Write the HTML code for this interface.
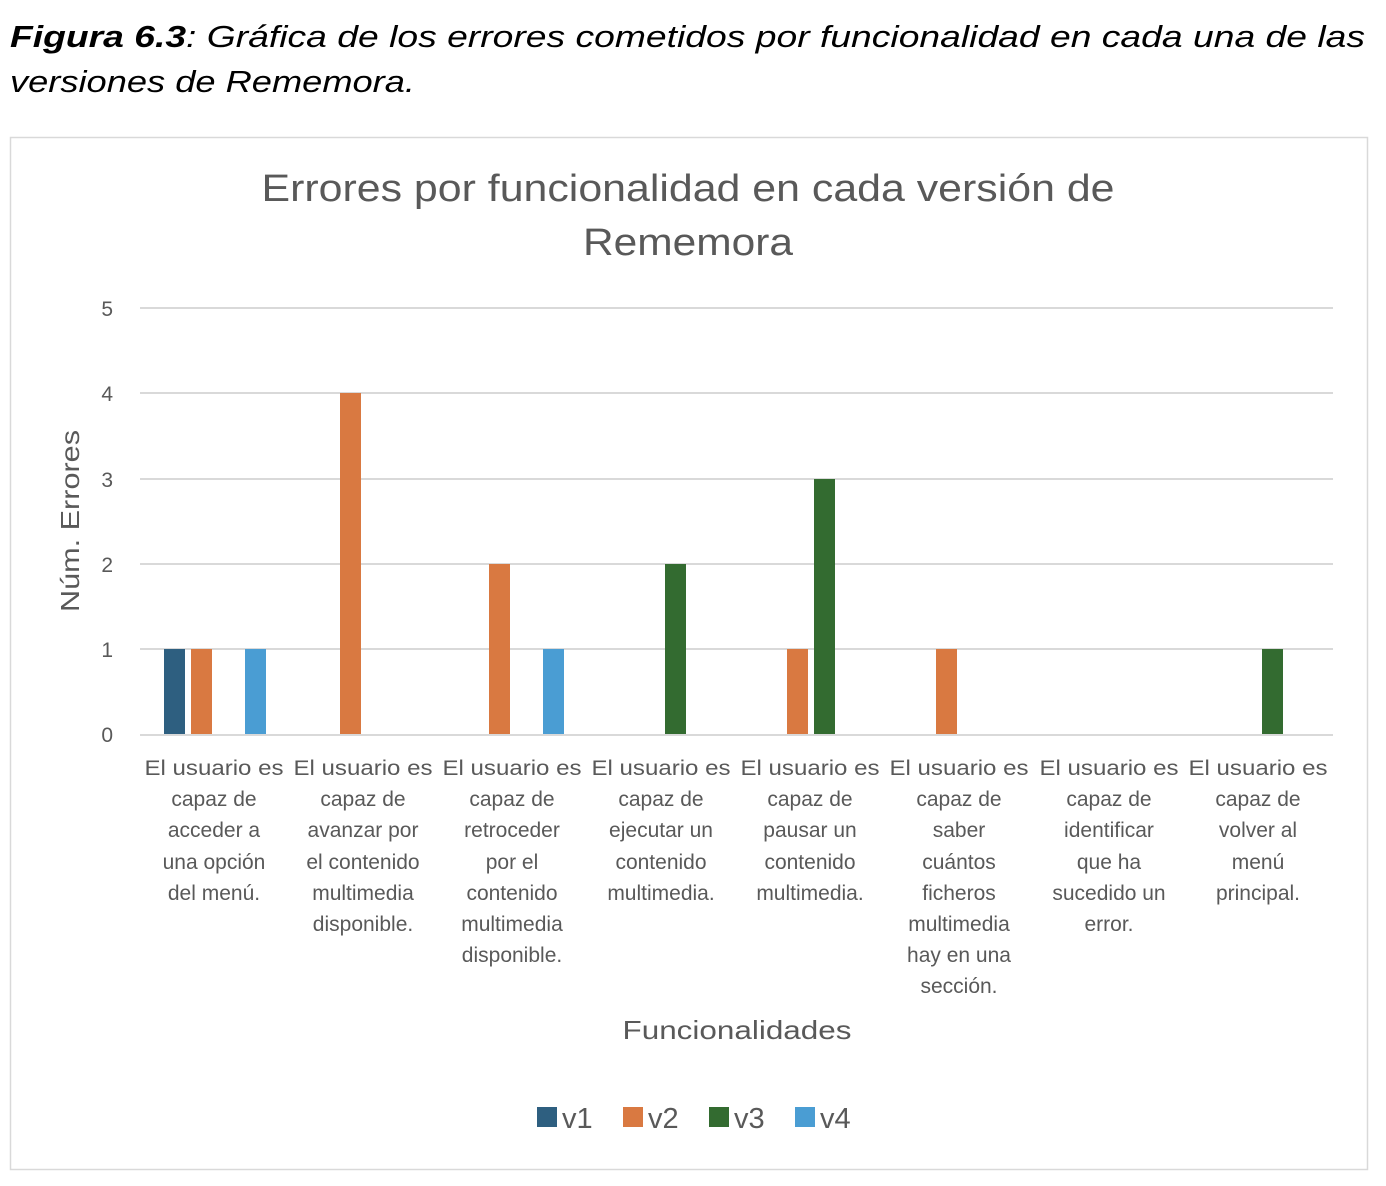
<!DOCTYPE html>
<html><head><meta charset="utf-8"><style>body{margin:0;background:#fff}svg{display:block}</style></head><body>
<svg width="1386" height="1186" xmlns="http://www.w3.org/2000/svg" font-family="Liberation Sans, sans-serif">
<text x="10" y="47" font-size="31" font-style="italic" fill="#000" textLength="1355" lengthAdjust="spacingAndGlyphs"><tspan font-weight="bold">Figura 6.3</tspan>: Gráfica de los errores cometidos por funcionalidad en cada una de las</text>
<text x="10" y="92" font-size="31" font-style="italic" fill="#000" textLength="405" lengthAdjust="spacingAndGlyphs">versiones de Rememora.</text>
<rect x="10.5" y="137.5" width="1357" height="1032" fill="#fff" stroke="#d9d9d9" stroke-width="1.5"/>
<g fill="#595959" font-size="38" text-anchor="middle">
<text x="688" y="201" textLength="853" lengthAdjust="spacingAndGlyphs">Errores por funcionalidad en cada versión de</text>
<text x="688" y="255" textLength="210" lengthAdjust="spacingAndGlyphs">Rememora</text>
</g>
<g stroke="#d9d9d9" stroke-width="2">
<line x1="140" x2="1333" y1="308" y2="308"/><line x1="140" x2="1333" y1="393" y2="393"/><line x1="140" x2="1333" y1="479" y2="479"/><line x1="140" x2="1333" y1="564" y2="564"/><line x1="140" x2="1333" y1="649" y2="649"/><line x1="140" x2="1333" y1="735" y2="735"/>
</g>
<g fill="#595959" font-size="21" text-anchor="end">
<text x="113" y="316">5</text><text x="113" y="401">4</text><text x="113" y="487">3</text><text x="113" y="572">2</text><text x="113" y="657">1</text><text x="113" y="742">0</text>
</g>
<text transform="translate(79,521) rotate(-90)" fill="#595959" font-size="26" text-anchor="middle" textLength="182" lengthAdjust="spacingAndGlyphs">Núm. Errores</text>
<rect x="164" y="649" width="21" height="85" fill="#2e5f80"/>
<rect x="191" y="649" width="21" height="85" fill="#d97941"/>
<rect x="245" y="649" width="21" height="85" fill="#4a9dd3"/>
<rect x="340" y="393" width="21" height="341" fill="#d97941"/>
<rect x="489" y="564" width="21" height="170" fill="#d97941"/>
<rect x="543" y="649" width="21" height="85" fill="#4a9dd3"/>
<rect x="665" y="564" width="21" height="170" fill="#336b30"/>
<rect x="787" y="649" width="21" height="85" fill="#d97941"/>
<rect x="814" y="479" width="21" height="255" fill="#336b30"/>
<rect x="936" y="649" width="21" height="85" fill="#d97941"/>
<rect x="1262" y="649" width="21" height="85" fill="#336b30"/>
<g fill="#595959" font-size="21" text-anchor="middle">
<text x="214" y="775" textLength="139" lengthAdjust="spacingAndGlyphs">El usuario es</text><text x="214" y="806">capaz de</text><text x="214" y="837">acceder a</text><text x="214" y="869">una opción</text><text x="214" y="900">del menú.</text>
<text x="363" y="775" textLength="139" lengthAdjust="spacingAndGlyphs">El usuario es</text><text x="363" y="806">capaz de</text><text x="363" y="837">avanzar por</text><text x="363" y="869">el contenido</text><text x="363" y="900">multimedia</text><text x="363" y="931">disponible.</text>
<text x="512" y="775" textLength="139" lengthAdjust="spacingAndGlyphs">El usuario es</text><text x="512" y="806">capaz de</text><text x="512" y="837">retroceder</text><text x="512" y="869">por el</text><text x="512" y="900">contenido</text><text x="512" y="931">multimedia</text><text x="512" y="962">disponible.</text>
<text x="661" y="775" textLength="139" lengthAdjust="spacingAndGlyphs">El usuario es</text><text x="661" y="806">capaz de</text><text x="661" y="837">ejecutar un</text><text x="661" y="869">contenido</text><text x="661" y="900">multimedia.</text>
<text x="810" y="775" textLength="139" lengthAdjust="spacingAndGlyphs">El usuario es</text><text x="810" y="806">capaz de</text><text x="810" y="837">pausar un</text><text x="810" y="869">contenido</text><text x="810" y="900">multimedia.</text>
<text x="959" y="775" textLength="139" lengthAdjust="spacingAndGlyphs">El usuario es</text><text x="959" y="806">capaz de</text><text x="959" y="837">saber</text><text x="959" y="869">cuántos</text><text x="959" y="900">ficheros</text><text x="959" y="931">multimedia</text><text x="959" y="962">hay en una</text><text x="959" y="993">sección.</text>
<text x="1109" y="775" textLength="139" lengthAdjust="spacingAndGlyphs">El usuario es</text><text x="1109" y="806">capaz de</text><text x="1109" y="837">identificar</text><text x="1109" y="869">que ha</text><text x="1109" y="900">sucedido un</text><text x="1109" y="931">error.</text>
<text x="1258" y="775" textLength="139" lengthAdjust="spacingAndGlyphs">El usuario es</text><text x="1258" y="806">capaz de</text><text x="1258" y="837">volver al</text><text x="1258" y="869">menú</text><text x="1258" y="900">principal.</text>
</g>
<text x="737" y="1039" fill="#595959" font-size="26" text-anchor="middle" textLength="229" lengthAdjust="spacingAndGlyphs">Funcionalidades</text>
<g font-size="29" fill="#595959">
<rect x="537" y="1107" width="20" height="20" fill="#2e5f80"/><text x="562" y="1128">v1</text>
<rect x="623" y="1107" width="20" height="20" fill="#d97941"/><text x="648" y="1128">v2</text>
<rect x="709" y="1107" width="20" height="20" fill="#336b30"/><text x="734" y="1128">v3</text>
<rect x="795" y="1107" width="20" height="20" fill="#4a9dd3"/><text x="820" y="1128">v4</text>
</g>
</svg>
</body></html>
